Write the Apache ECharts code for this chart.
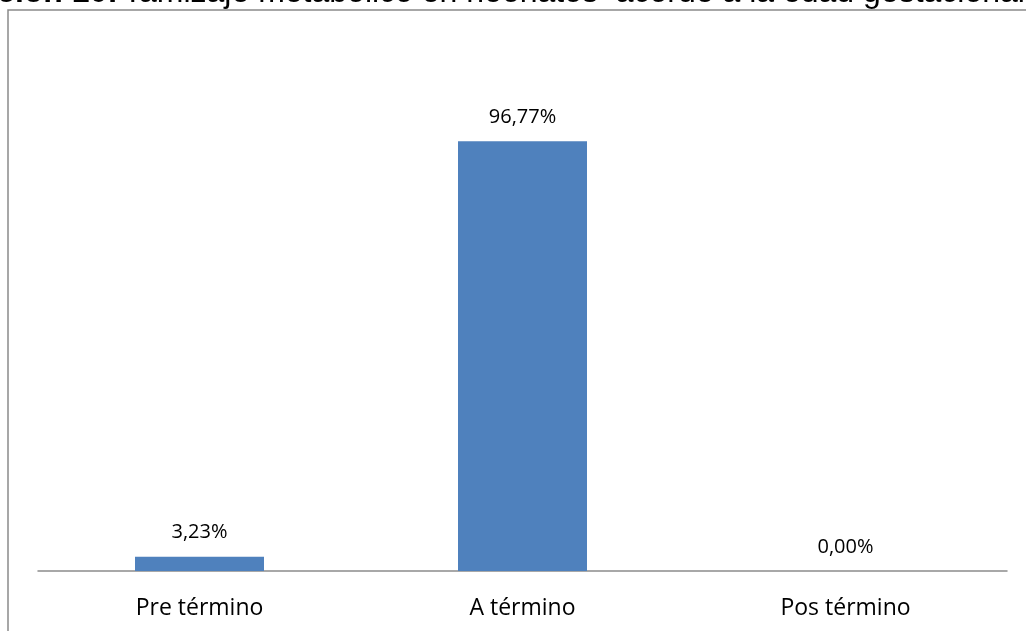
<!DOCTYPE html>
<html>
<head>
<meta charset="utf-8">
<script src="https://cdn.jsdelivr.net/npm/echarts@6/dist/echarts.min.js"></script>
<style>
html,body{margin:0;padding:0;background:#fff;}
#chart{width:1026px;height:631px;}
</style>
</head>
<body>
<div id="chart"></div>
<script>
const categories = ['Pre término', 'A término', 'Pos término'];
const values = [3.23, 96.77, 0.00];
const titleBold = 'Ilustración 10:';
const titleRest = 'Tamizaje metabólico en neonatos  acorde a la edad gestacional';

const chart = echarts.init(document.getElementById('chart'));
const fontFam = '"Open Sans", "Noto Sans", "Liberation Sans", sans-serif';
chart.setOption({
  animation: false,
  grid: { left: 38, right: 19, top: 38, bottom: 60 },
  xAxis: {
    type: 'category',
    data: categories,
    axisLine: { lineStyle: { color: '#8c8c8c', width: 1.5 } },
    axisTick: { show: false },
    axisLabel: { color: '#000', fontSize: 23, fontFamily: fontFam, margin: 26 }
  },
  yAxis: {
    type: 'value', min: 0, max: 120, show: false
  },
  series: [{
    type: 'bar',
    data: values,
    barWidth: 129,
    itemStyle: { color: '#4f81bd' },
    label: {
      show: true, position: 'top', distance: 14,
      color: '#000', fontSize: 20, fontFamily: fontFam,
      formatter: p => p.value.toFixed(2).replace('.', ',') + '%'
    }
  }],
  graphic: [
    { type: 'rect', shape: { x: 8, y: 10, width: 1100, height: 700 },
      style: { fill: 'none', stroke: '#8a8a8a', lineWidth: 1.5 }, z: -1 },
    { type: 'text', x: 118, y: -7,
      style: { text: titleBold, font: 'bold 32px "Liberation Sans", Arial, sans-serif', fill: '#000', align: 'right', verticalAlign: 'middle' } },
    { type: 'text', x: 123, y: -7,
      style: { text: titleRest, font: '32px "Liberation Sans", Arial, sans-serif', fill: '#000', align: 'left', verticalAlign: 'middle' } }
  ]
});
</script>
</body>
</html>
